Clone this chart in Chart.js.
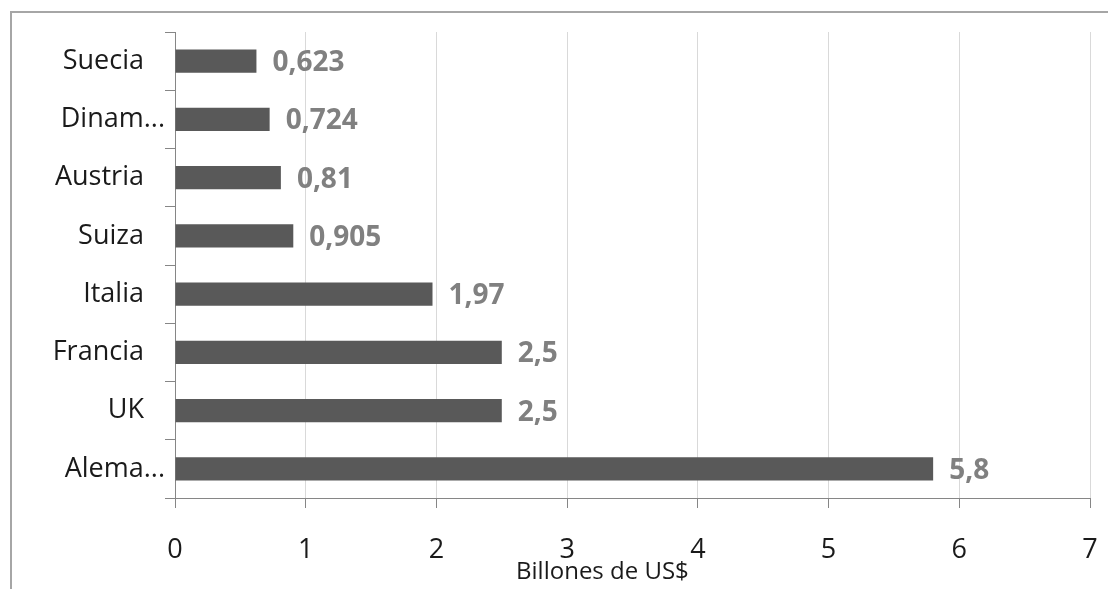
<!DOCTYPE html>
<html>
<head>
<meta charset="utf-8">
<script src="https://cdn.jsdelivr.net/npm/chart.js@4"></script>
<style>
    body { margin: 0; background: #ffffff; }
    canvas { display: block; }
</style>
</head>
<body>
<canvas id="exportChart" width="1108" height="589"></canvas>
<script>
const countries = ['Suecia', 'Dinam...', 'Austria', 'Suiza', 'Italia', 'Francia', 'UK', 'Alema...']
const billions = [0.623, 0.724, 0.81, 0.905, 1.97, 2.5, 2.5, 5.8]
const axisTitle = 'Billones de US$'

const AXIS_COLOR = '#868686'
const GRID_COLOR = '#d9d9d9'
const TEXT_COLOR = '#1a1a1a'
const FONT = '"Open Sans", sans-serif'

// Frame around the chart, like the Excel chart border
const framePlugin = {
    id: 'frame',
    beforeDraw(chart) {
        const ctx = chart.ctx
        ctx.save()
        ctx.strokeStyle = '#a6a6a6'
        ctx.lineWidth = 2
        ctx.strokeRect(11, 12, chart.width + 40, chart.height + 40)
        ctx.restore()
    }
}

// Value labels after each bar, decimal comma
const valueLabelPlugin = {
    id: 'valueLabels',
    afterDatasetsDraw(chart) {
        const ctx = chart.ctx
        const meta = chart.getDatasetMeta(0)
        ctx.save()
        ctx.font = 'bold 28px ' + FONT
        ctx.fillStyle = '#808080'
        ctx.textAlign = 'left'
        ctx.textBaseline = 'middle'
        meta.data.forEach((bar, i) => {
            const text = String(chart.data.datasets[0].data[i]).replace('.', ',')
            ctx.fillText(text, bar.x + 16, bar.y + 2)
        })
        ctx.restore()
    }
}

// Axis title, placed a bit left of centre as in the original
const axisTitlePlugin = {
    id: 'axisTitle',
    afterDraw(chart) {
        const ctx = chart.ctx
        const x = chart.scales.x
        ctx.save()
        ctx.font = '24px ' + FONT
        ctx.fillStyle = TEXT_COLOR
        ctx.textAlign = 'center'
        ctx.textBaseline = 'alphabetic'
        ctx.fillText(axisTitle, x.getPixelForValue(3.27), x.bottom - 10)
        ctx.restore()
    }
}

const chartCtx = document.getElementById('exportChart').getContext('2d')
const chart = new Chart(chartCtx, {
    type: 'bar',
    data: {
        labels: countries,
        datasets: [{
            data: billions,
            backgroundColor: '#595959',
            barPercentage: 0.4,
            categoryPercentage: 1
        }]
    },
    options: {
        indexAxis: 'y',
        responsive: false,
        animation: false,
        layout: {
            padding: { top: 32, right: 18, left: 0, bottom: 0 }
        },
        plugins: {
            legend: { display: false },
            tooltip: { enabled: false }
        },
        scales: {
            x: {
                min: 0,
                max: 7,
                afterFit: (scale) => {
                    scale.height = 91
                    scale.paddingLeft = 0
                    scale.paddingRight = 0
                },
                grid: {
                    color: GRID_COLOR,
                    tickColor: AXIS_COLOR,
                    tickLength: 10
                },
                border: { color: AXIS_COLOR },
                ticks: {
                    stepSize: 1,
                    padding: 26,
                    color: TEXT_COLOR,
                    font: { family: FONT, size: 27 }
                }
            },
            y: {
                afterFit: (scale) => { scale.width = 175 },
                grid: {
                    offset: true,
                    drawOnChartArea: false,
                    tickColor: AXIS_COLOR,
                    tickLength: 10
                },
                border: { color: AXIS_COLOR },
                ticks: {
                    padding: 0,
                    color: TEXT_COLOR,
                    font: { family: FONT, size: 27 },
                    // truncated names hang their dots past the common right edge
                    callback: function (value) {
                        const label = this.getLabelForValue(value)
                        return label.endsWith('...') ? label : label + '   '
                    }
                }
            }
        }
    },
    plugins: [framePlugin, valueLabelPlugin, axisTitlePlugin]
})
</script>
</body>
</html>
